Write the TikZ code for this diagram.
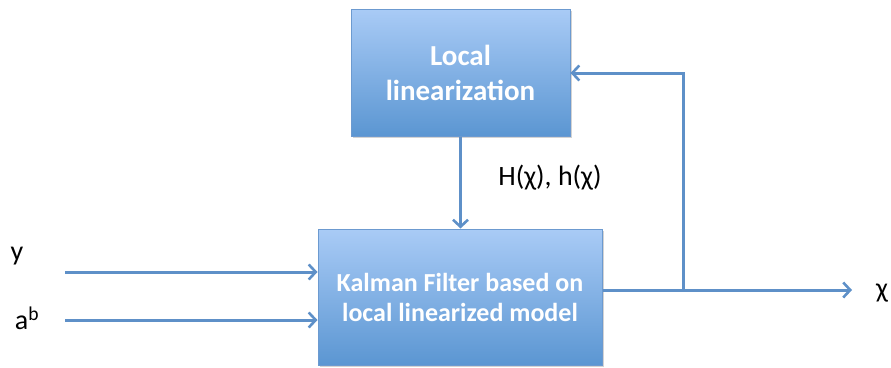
\documentclass[tikz,border=0pt]{standalone}
\usepackage{fontspec}
\setmainfont{Carlito}
\usetikzlibrary{arrows.meta,shadows}
\definecolor{boxtop}{HTML}{A9CBF6}
\definecolor{boxbot}{HTML}{5B96D2}
\definecolor{boxedge}{HTML}{6C9AD0}
\definecolor{wire}{HTML}{5E90C8}
\tikzset{
  block/.style={draw=boxedge, line width=1pt, top color=boxtop, bottom color=boxbot,
    text=white, align=center,
    drop shadow={shadow xshift=1.5pt, shadow yshift=-2pt, opacity=0.35}},
  wirestyle/.style={draw=wire, line width=3pt,
    -{Straight Barb[length=7pt,width=15pt,line width=2.6pt]}},
  lbl/.style={font=\fontsize{28}{30}\selectfont, text=black, inner sep=0pt}
}
\begin{document}
\begin{tikzpicture}[x=1pt,y=-1pt]
  \useasboundingbox (0,0) rectangle (891,367);
  % blocks
  \node[block, minimum width=219pt, minimum height=127pt,
        font=\bfseries\fontsize{29}{35}\selectfont] (lin) at (460.5,72.5)
    {Local\\linearization};
  \node[block, minimum width=284pt, minimum height=136pt,
        font=\bfseries\fontsize{26}{30}\selectfont] (kf) at (460,297)
    {Kalman Filter based on\\local linearized model};
  % linearization output into the filter
  \draw[wirestyle] (lin.south) -- (lin.south |- kf.north);
  \node[lbl] (hlab) at (550,178) {H(χ), h(χ)};
  % inputs
  \coordinate (yin) at (65,272);
  \coordinate (ain) at (65,320);
  \draw[wirestyle] (yin) -- (yin -| kf.west);
  \draw[wirestyle] (ain) -- (ain -| kf.west);
  \node[lbl] (ylab) at (17,256) {y};
  \node[lbl] (alab) at (27,318) {a\textsuperscript{b}};
  % output and feedback
  \coordinate (out) at (852,290);
  \coordinate (tap) at (683,290);
  \coordinate (fb) at (683,73);
  \draw[wirestyle] (kf.east |- out) -- (out);
  \draw[wirestyle] (tap) -- (fb) -- (fb -| lin.east);
  \node[lbl] (xlab) at (882,293) {χ};
\end{tikzpicture}
\end{document}
